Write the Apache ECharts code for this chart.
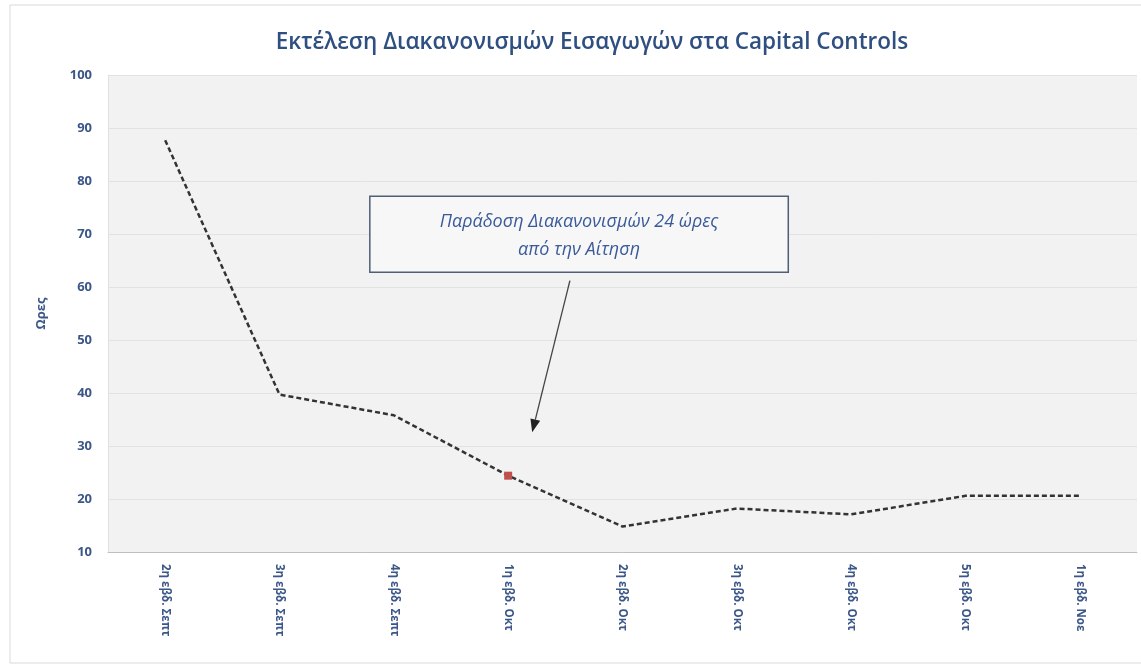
<!DOCTYPE html>
<html>
<head>
<meta charset="utf-8">
<script src="https://cdn.jsdelivr.net/npm/echarts@6/dist/echarts.min.js"></script>
<style>html,body{margin:0;padding:0;background:#fff;}#c{width:1141px;height:669px;}</style>
</head>
<body>
<div id="c"></div>
<script>
const categories = ['2η εβδ. Σεπτ','3η εβδ. Σεπτ','4η εβδ. Σεπτ','1η εβδ. Οκτ','2η εβδ. Οκτ','3η εβδ. Οκτ','4η εβδ. Οκτ','5η εβδ. Οκτ','1η εβδ. Νοε'];
const hours = [87.7, 39.7, 35.8, 24.4, 14.8, 18.2, 17.1, 20.6, 20.6];
const highlightIndex = 3;
const yTicks = [10, 20, 30, 40, 50, 60, 70, 80, 90, 100];
const titleText = 'Εκτέλεση Διακανονισμών Εισαγωγών στα Capital Controls';
const yAxisName = 'Ωρες';
const noteLines = ['Παράδοση Διακανονισμών 24 ώρες', 'από την Αίτηση'];
// annotation anchors in data space: [category index (fractional), value]
const noteBoxTL = [1.79, 77.1];
const noteBoxBR = [5.45, 62.8];
const arrowFrom = [3.54, 61.2];
const arrowTo = [3.21, 32.6];

const FONT = '"Open Sans", "Noto Sans", sans-serif';
const BLUE = '#3b5688';

const chart = echarts.init(document.getElementById('c'), null, {renderer: 'canvas'});
const option = {
  backgroundColor: '#ffffff',
  animation: false,
  title: {
    text: titleText, left: 587, top: 26, textAlign: 'center',
    textStyle: {color: '#2f4f80', fontSize: 22.5, fontWeight: 600, fontFamily: FONT}
  },
  grid: {left: 108, right: 4, top: 75, bottom: 117, show: true, backgroundColor: '#f2f2f2', borderWidth: 0},
  xAxis: {
    type: 'category', data: categories, boundaryGap: true,
    axisLine: {lineStyle: {color: '#bfbfbf', width: 1}},
    axisTick: {show: false},
    axisLabel: {rotate: -90, color: BLUE, fontSize: 11.5, fontWeight: 'bold', fontFamily: FONT, margin: 12, interval: 0}
  },
  yAxis: {
    type: 'value', min: yTicks[0], max: yTicks[yTicks.length - 1], interval: yTicks[1] - yTicks[0],
    name: yAxisName, nameLocation: 'middle', nameGap: 60, nameRotate: 90,
    nameTextStyle: {color: BLUE, fontSize: 13, fontWeight: 'bold', fontFamily: FONT},
    axisLine: {show: true, lineStyle: {color: '#e0e0e0'}},
    axisTick: {show: false},
    axisLabel: {color: BLUE, fontSize: 13, fontWeight: 'bold', fontFamily: FONT, margin: 16},
    splitLine: {lineStyle: {color: '#e2e2e2', width: 1}}
  },
  series: [{
    type: 'line', data: hours.map((v, i) => i === highlightIndex
      ? {value: v, symbol: 'rect', symbolSize: 8, itemStyle: {color: '#c0504d'}}
      : {value: v, symbol: 'none'}),
    showSymbol: true,
    lineStyle: {color: '#333333', width: 2.5, type: [5, 3]},
    z: 3
  }]
};
chart.setOption(option);

function p(d) {
  const i0 = Math.floor(d[0]), i1 = i0 + 1, f = d[0] - i0;
  const x0 = chart.convertToPixel({xAxisIndex: 0}, categories[i0]);
  const x1 = chart.convertToPixel({xAxisIndex: 0}, categories[Math.min(i1, categories.length - 1)]);
  const step = (i1 < categories.length) ? (x1 - x0) : 0;
  const y = chart.convertToPixel({yAxisIndex: 0}, d[1]);
  return [x0 + f * step, y];
}
const tl = p(noteBoxTL), br = p(noteBoxBR), a0 = p(arrowFrom), a1 = p(arrowTo);
const ang = Math.atan2(a1[1] - a0[1], a1[0] - a0[0]);
const headLen = 13, headW = 5;
const hx = a1[0], hy = a1[1];
const bx = hx - headLen * Math.cos(ang), by = hy - headLen * Math.sin(ang);
const nx = -Math.sin(ang) * headW, ny = Math.cos(ang) * headW;
const cx = (tl[0] + br[0]) / 2, cy = (tl[1] + br[1]) / 2;
chart.setOption({
  graphic: [
    {type: 'rect', silent: true, shape: {x: 10, y: 5, width: 1160, height: 658}, style: {fill: 'none', stroke: '#d9d9d9', lineWidth: 1}, z: 0},
    {type: 'rect', shape: {x: tl[0], y: tl[1], width: br[0] - tl[0], height: br[1] - tl[1]},
      style: {fill: '#f7f7f7', stroke: '#4f5f75', lineWidth: 1.5}, z: 10},
    {type: 'text', x: cx, y: cy - 12, style: {text: noteLines[0], fill: '#3a5a9a', font: 'italic 18px ' + FONT, textAlign: 'center', textVerticalAlign: 'middle'}, z: 11},
    {type: 'text', x: cx, y: cy + 16, style: {text: noteLines[1], fill: '#3a5a9a', font: 'italic 18px ' + FONT, textAlign: 'center', textVerticalAlign: 'middle'}, z: 11},
    {type: 'line', shape: {x1: a0[0], y1: a0[1], x2: bx, y2: by}, style: {stroke: '#444444', lineWidth: 1.3}, z: 10},
    {type: 'polygon', shape: {points: [[hx, hy], [bx + nx, by + ny], [bx - nx, by - ny]]}, style: {fill: '#222222'}, z: 10}
  ]
});
</script>
</body>
</html>
